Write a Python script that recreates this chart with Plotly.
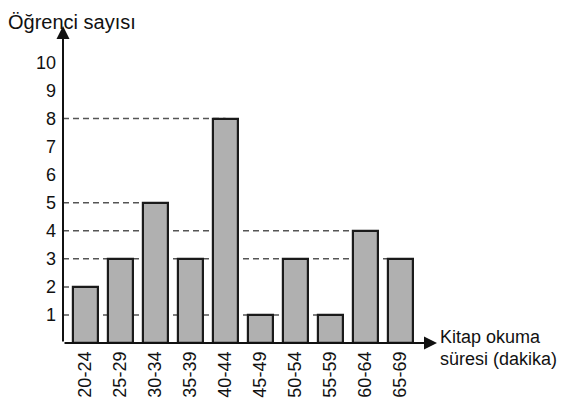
import plotly.graph_objects as go

categories = ["20-24", "25-29", "30-34", "35-39", "40-44", "45-49", "50-54", "55-59", "60-64", "65-69"]
counts = [2, 3, 5, 3, 8, 1, 3, 1, 4, 3]
y_ticks = [1, 2, 3, 4, 5, 6, 7, 8, 9, 10]
y_title = "Öğrenci sayısı"
x_title_lines = ["Kitap okuma", "süresi (dakika)"]

x_pos = list(range(len(categories)))
X0, X1 = -0.643, 10.04
Y0, Y1 = 0, 11.3
FONT = "Liberation Sans, Arial, sans-serif"

# page body has an 8px margin; figure sized to fit inside the window
W, H = 553, 393
L, R, T, B = 55, 124, 18, 58
PW, PH = W - L - R, H - T - B


def px_x(fx):
    return (fx - L) / PW


def px_y(fy):
    return (H - B - fy) / PH


fig = go.Figure()
fig.add_trace(go.Bar(
    x=x_pos, y=counts, width=0.72,
    marker=dict(color="#b0b0b0", line=dict(color="#1a1a1a", width=2.2)),
    hoverinfo="skip",
))

# dashed guide lines: from the y axis to the last bar of each value
shapes = []
for v in sorted(set(counts)):
    last = max(i for i, c in enumerate(counts) if c == v)
    shapes.append(dict(type="line", layer="below", xref="x", yref="y",
                       x0=X0, x1=last, y0=v, y1=v,
                       line=dict(color="#555555", width=1.5, dash="6px,4px")))

annotations = [
    dict(x=X0, y=Y1, ax=X0, ay=0, xref="x", yref="y", axref="x", ayref="y",
         text="", showarrow=True, arrowhead=2, arrowsize=1.3, arrowwidth=2, arrowcolor="#111111"),
    dict(x=X1, y=0, ax=X0, ay=0, xref="x", yref="y", axref="x", ayref="y",
         text="", showarrow=True, arrowhead=2, arrowsize=1.3, arrowwidth=2, arrowcolor="#111111"),
    dict(x=px_x(-2), y=px_y(1), xref="paper", yref="paper", text=y_title, showarrow=False,
         xanchor="left", yanchor="top", font=dict(family=FONT, size=20, color="#111111")),
    dict(x=px_x(430), y=px_y(329), xref="paper", yref="paper", text=x_title_lines[0],
         showarrow=False, xanchor="left", yanchor="middle",
         font=dict(family=FONT, size=18, color="#111111")),
    dict(x=px_x(430), y=px_y(351), xref="paper", yref="paper", text=x_title_lines[1],
         showarrow=False, xanchor="left", yanchor="middle",
         font=dict(family=FONT, size=18, color="#111111")),
]

fig.update_layout(
    width=W, height=H,
    margin=dict(l=L, r=R, t=T, b=B, pad=0, autoexpand=False),
    paper_bgcolor="white", plot_bgcolor="white",
    showlegend=False,
    bargap=0,
    shapes=shapes,
    annotations=annotations,
    xaxis=dict(range=[X0, X1], tickmode="array", tickvals=x_pos, ticktext=categories,
               tickangle=-90, showgrid=False, zeroline=False, showline=False, ticks="",
               ticklabelstandoff=4,
               tickfont=dict(family=FONT, size=18, color="#111111")),
    yaxis=dict(range=[Y0, Y1], tickmode="array", tickvals=y_ticks,
               showgrid=False, zeroline=False, showline=False, ticks="",
               ticklabelstandoff=6,
               tickfont=dict(family=FONT, size=18, color="#111111")),
)

fig.write_html("out.html")
